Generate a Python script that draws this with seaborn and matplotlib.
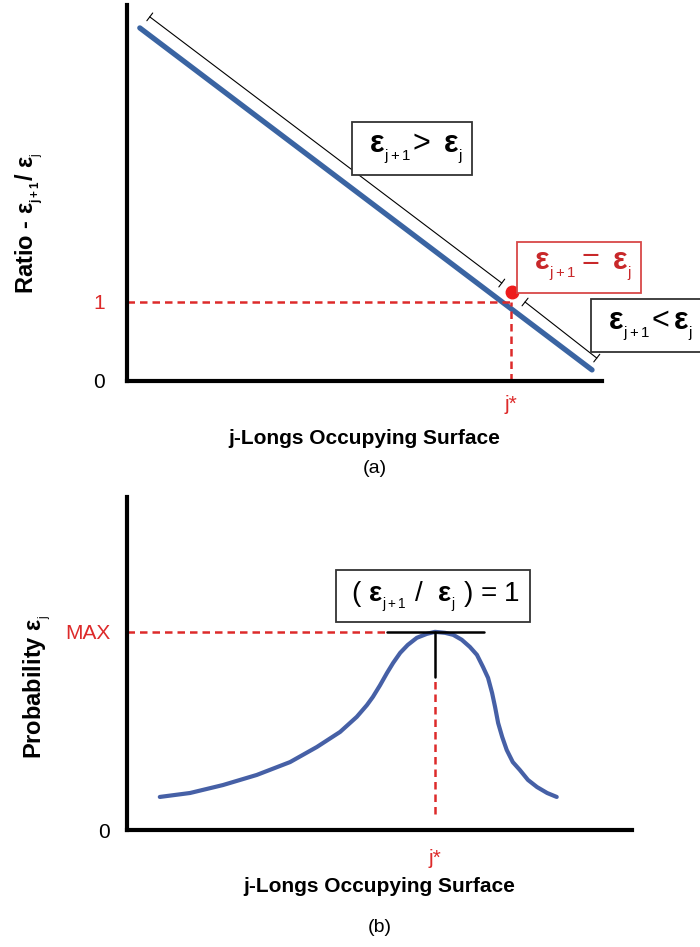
import numpy as np
import pandas as pd
import seaborn as sns
import matplotlib.pyplot as plt

# data
ratio_x = [0.27, 9.79]
ratio_y = [4.47, 0.14]
jstar_a = 8.08
eq_point = (8.1, 1.13)

prob_x = [0.65, 1.25, 1.90, 2.57, 3.23, 3.76, 4.22, 4.55, 4.75, 4.87, 5.01, 5.15,
          5.27, 5.41, 5.56, 5.74, 5.94, 6.10, 6.30, 6.46, 6.63, 6.79, 6.93, 7.05,
          7.15, 7.23, 7.29, 7.35, 7.43, 7.52, 7.64, 7.78, 7.94, 8.12, 8.32, 8.51]
prob_y = [0.167, 0.187, 0.227, 0.278, 0.343, 0.419, 0.495, 0.571, 0.63, 0.672,
          0.73, 0.793, 0.843, 0.894, 0.934, 0.970, 0.99, 1.0, 0.995, 0.985, 0.96,
          0.924, 0.884, 0.823, 0.768, 0.692, 0.62, 0.540, 0.47, 0.404, 0.343,
          0.303, 0.253, 0.217, 0.187, 0.167]
jstar_b = 6.10

ratio = pd.DataFrame({'x': ratio_x, 'y': ratio_y})
prob = pd.DataFrame({'x': prob_x, 'y': prob_y})

sns.set_style("white")
plt.rcParams['font.family'] = ['Liberation Sans', 'DejaVu Sans']
plt.rcParams['mathtext.fontset'] = 'custom'
plt.rcParams['mathtext.rm'] = 'Liberation Sans'
plt.rcParams['mathtext.it'] = 'Liberation Sans:italic'
plt.rcParams['mathtext.bf'] = 'Liberation Sans:bold'
for k in ('text.color', 'axes.labelcolor', 'xtick.color', 'ytick.color'):
    plt.rcParams[k] = 'black'

RED = '#dd2a2a'
fig = plt.figure(figsize=(7, 9.47), dpi=100)
ax1 = fig.add_axes([0.1814, 0.5977, 0.6786, 0.3970])
ax2 = fig.add_axes([0.1814, 0.1235, 0.7214, 0.3516])

for ax in (ax1, ax2):
    sns.despine(ax=ax)
    for s in ('left', 'bottom'):
        ax.spines[s].set_linewidth(3)
        ax.spines[s].set_color('black')
    ax.tick_params(length=0, labelsize=15)

# epsilon with a small, low subscript
def eps(sub):
    return r'\mathbf{ε}_{{}_{\mathrm{' + sub + '}}}'

# ---- panel (a)
sns.lineplot(data=ratio, x='x', y='y', ax=ax1, color='#3a64a2', lw=3.8)
ax1.set_xlim(0, 10)
ax1.set_ylim(0, 4.76)
ax1.plot([0, jstar_a], [1, 1], ls=(0, (3, 2)), color=RED, lw=1.8)
ax1.plot([jstar_a, jstar_a], [0, 1], ls=(0, (3, 2)), color=RED, lw=1.8)
ax1.plot(*eq_point, 'o', color='#ee1c1c', ms=9, clip_on=False)

bar = dict(arrowstyle='|-|,widthA=0.35,widthB=0.35', lw=0.8, color='black',
           shrinkA=0, shrinkB=0)
ax1.annotate('', xy=(0.48, 4.61), xytext=(7.89, 1.24), arrowprops=bar)
ax1.annotate('', xy=(8.38, 1.0), xytext=(9.89, 0.29), arrowprops=bar, annotation_clip=False)

ax1.set_yticks([0, 1])
ax1.set_yticklabels(['0', '1'])
ax1.get_yticklabels()[1].set_color(RED)
ax1.tick_params(axis='y', pad=16)
ax1.set_xticks([jstar_a])
ax1.set_xticklabels(['j*'], color=RED)
ax1.tick_params(axis='x', pad=10)
ax1.set_xlabel('j-Longs Occupying Surface', fontsize=15, fontweight='bold', labelpad=11)
ax1.set_ylabel(r'Ratio - $\mathbf{ε}_{{}_{\mathbf{j+1}}}$/ $\mathbf{ε}_{{}_{\mathrm{j}}}$',
               fontsize=17, fontweight='bold')
ax1.yaxis.set_label_coords(-0.17, 0.42)

box = dict(boxstyle='square,pad=0.3', fc='white', ec='#333333', lw=1.3)
ax1.text(6.0, 2.94, r'$\ ' + eps('j+1') + r'\!>\ ' + eps('j') + r'\ \ $',
         fontsize=22, ha='center', va='center', bbox=box)
ax1.text(9.52, 1.44, r'$\ ' + eps('j+1') + r'=\ ' + eps('j') + r'\ \ $',
         fontsize=22, ha='center', va='center', color='#c8282a',
         bbox=dict(boxstyle='square,pad=0.3', fc='white', ec='#d84848', lw=1.3))
ax1.text(10.95, 0.70, r'$\ ' + eps('j+1') + r'\!<' + eps('j') + r'\ \ $',
         fontsize=22, ha='center', va='center', bbox=box)

# ---- panel (b)
sns.lineplot(data=prob, x='x', y='y', ax=ax2, color='#4660a6', lw=3, sort=False,
             solid_joinstyle='round', solid_capstyle='round')
ax2.set_xlim(0, 10)
ax2.set_ylim(0, 1.68)
ax2.plot([0, 5.15], [1, 1], ls=(0, (3, 2)), color=RED, lw=1.8)
ax2.plot([jstar_b, jstar_b], [0.08, 0.77], ls=(0, (3, 2)), color=RED, lw=1.8)
ax2.plot([5.15, 7.07], [1, 1], color='black', lw=1.8)
ax2.plot([jstar_b, jstar_b], [0.77, 1], color='black', lw=1.8)

ax2.set_yticks([0, 1])
ax2.set_yticklabels(['0', 'MAX'])
ax2.get_yticklabels()[1].set_color(RED)
ax2.tick_params(axis='y', pad=12)
ax2.set_xticks([jstar_b])
ax2.set_xticklabels(['j*'], color=RED)
ax2.tick_params(axis='x', pad=14)
ax2.set_xlabel('j-Longs Occupying Surface', fontsize=15, fontweight='bold', labelpad=6)
ax2.set_ylabel(r'Probability $\mathbf{ε}_{{}_{\mathrm{j}}}$', fontsize=17, fontweight='bold')
ax2.yaxis.set_label_coords(-0.145, 0.43)

ax2.text(6.06, 1.18, r'$\ ($ $' + eps('j+1') + r'$ /  $' + eps('j') + r'$ ) = 1 ',
         fontsize=20, ha='center', va='center', bbox=box)

fig.text(375 / 700, 1 - 468 / 947, '(a)', fontsize=14, ha='center', va='center')
fig.text(380 / 700, 1 - 927 / 947, '(b)', fontsize=14, ha='center', va='center')

fig.savefig('out.png', dpi=100)
